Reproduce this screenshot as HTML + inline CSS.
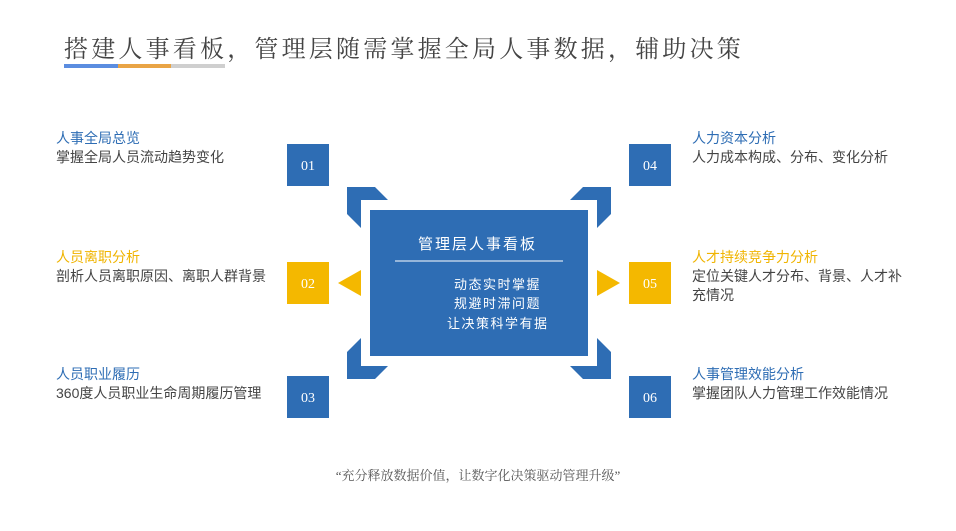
<!DOCTYPE html>
<html><head><meta charset="utf-8"><style>
body{margin:0;width:956px;height:531px;background:#fff;position:relative;overflow:hidden;font-family:"Liberation Sans","Noto Sans CJK SC",sans-serif}
.a{position:absolute;white-space:nowrap}
.h{font-size:14px;color:#2e6db4;line-height:18px}
.y{color:#f0b400}
.s{font-size:14px;color:#444;line-height:19px}
.b{position:absolute;width:42px;height:42px;background:#2e6db4;color:#fff;font-family:"Liberation Serif",serif;font-size:14px;display:flex;align-items:center;justify-content:center;padding-top:3px;box-sizing:border-box}
.g{background:#f4b800}
</style></head><body>
<div class="a" style="left:64px;top:29px;font-size:24px;color:#444;letter-spacing:3.2px;font-family:'Liberation Serif','Noto Serif CJK SC',serif">搭建人事看板，管理层随需掌握全局人事数据，辅助决策</div>
<div class="a" style="left:64px;top:64px;width:54px;height:4px;background:#5b8de0"></div>
<div class="a" style="left:118px;top:64px;width:53px;height:4px;background:#e9a445"></div>
<div class="a" style="left:171px;top:64px;width:54px;height:4px;background:#cfcfcf"></div>

<div class="a h" style="left:56px;top:129px">人事全局总览</div>
<div class="a s" style="left:56px;top:148px">掌握全局人员流动趋势变化</div>
<div class="a h y" style="left:56px;top:248px">人员离职分析</div>
<div class="a s" style="left:56px;top:267px">剖析人员离职原因、离职人群背景</div>
<div class="a h" style="left:56px;top:365px">人员职业履历</div>
<div class="a s" style="left:56px;top:384px">360度人员职业生命周期履历管理</div>

<div class="a h" style="left:692px;top:129px">人力资本分析</div>
<div class="a s" style="left:692px;top:148px">人力成本构成、分布、变化分析</div>
<div class="a h y" style="left:692px;top:248px">人才持续竞争力分析</div>
<div class="a s" style="left:692px;top:267px">定位关键人才分布、背景、人才补<br>充情况</div>
<div class="a h" style="left:692px;top:365px">人事管理效能分析</div>
<div class="a s" style="left:692px;top:384px">掌握团队人力管理工作效能情况</div>

<div class="b" style="left:287px;top:144px">01</div>
<div class="b g" style="left:287px;top:262px">02</div>
<div class="b" style="left:287px;top:376px">03</div>
<div class="b" style="left:629px;top:144px">04</div>
<div class="b g" style="left:629px;top:262px">05</div>
<div class="b" style="left:629px;top:376px">06</div>

<svg class="a" style="left:0;top:0" width="956" height="531">
<g fill="#2e6db4">
<polygon points="347,187 375,187 388,200 361,200 361,228 347,214"/>
<polygon points="611,187 583,187 570,200 597,200 597,228 611,214"/>
<polygon points="347,379 375,379 388,366 361,366 361,338 347,352"/>
<polygon points="611,379 583,379 570,366 597,366 597,338 611,352"/>
</g>
<polygon fill="#f4b800" points="338,283 361,270 361,296"/>
<polygon fill="#f4b800" points="620,283 597,270 597,296"/>
<rect x="370" y="210" width="218" height="146" fill="#2e6db4"/>
<line x1="395" y1="261" x2="563" y2="261" stroke="#fff" stroke-width="1"/>
</svg>
<div class="a" style="left:418px;top:233px;font-size:15px;color:#fff;letter-spacing:2px">管理层人事看板</div>
<div class="a" style="left:454px;top:275px;font-size:13px;color:#fff;letter-spacing:1.5px;line-height:19px">动态实时掌握<br>规避时滞问题</div>
<div class="a" style="left:447px;top:313px;font-size:13px;color:#fff;letter-spacing:1.5px">让决策科学有据</div>

<div class="a" style="left:0;width:956px;text-align:center;top:465px;font-size:13px;color:#555;font-family:'Liberation Serif','Noto Serif CJK SC',serif">“充分释放数据价值，让数字化决策驱动管理升级”</div>
</body></html>
